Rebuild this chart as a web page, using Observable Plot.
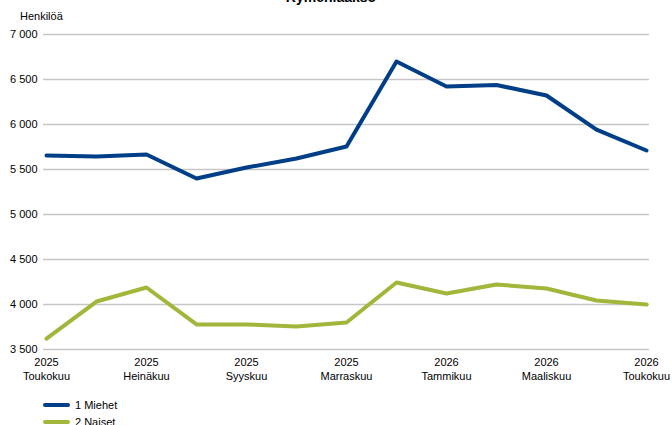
<!DOCTYPE html>
<html>
<head>
<meta charset="utf-8">
<script src="https://cdn.jsdelivr.net/npm/d3@7"></script>
<script src="https://cdn.jsdelivr.net/npm/@observablehq/plot@0.6"></script>
<style>
  body { margin: 0; background: #fff; font-family: "Liberation Sans", Arial, sans-serif; }
  #wrap { position: relative; width: 672px; height: 425px; overflow: hidden; }
  #title { position: absolute; top: -11px; left: 0; width: 662px; text-align: center; font-weight: bold; font-size: 14px; color: #000; }
  #ylabel { position: absolute; top: 10px; left: 20px; font-size: 11px; color: #000; }
  #legend { position: absolute; top: 396px; left: 43px; font-size: 11px; color: #000; }
  .li { display: flex; align-items: center; height: 17px; }
  .sw { width: 27px; height: 4px; border-radius: 2px; margin-right: 5px; }
  svg text { font-family: "Liberation Sans", Arial, sans-serif; }
</style>
</head>
<body>
<div id="wrap">
  <div id="chart"></div>
  <div id="title">Kymenlaakso</div>
  <div id="ylabel">Henkilöä</div>
  <div id="legend"></div>
</div>
<script>
const months = ["2025 Toukokuu","2025 Kesäkuu","2025 Heinäkuu","2025 Elokuu","2025 Syyskuu","2025 Lokakuu","2025 Marraskuu","2025 Joulukuu","2026 Tammikuu","2026 Helmikuu","2026 Maaliskuu","2026 Huhtikuu","2026 Toukokuu"];
const miehet = [5656, 5644, 5667, 5400, 5522, 5622, 5756, 6700, 6422, 6439, 6322, 5944, 5711];
const naiset = [3622, 4033, 4189, 3778, 3778, 3756, 3800, 4244, 4122, 4222, 4178, 4044, 4000];
const seriesNames = ["1 Miehet", "2 Naiset"];
const seriesColors = ["#003f87", "#a3b53a"];
const yTicks = [3500, 4000, 4500, 5000, 5500, 6000, 6500, 7000];
const xTicks = months.filter((d, i) => i % 2 === 0);

const data = [];
months.forEach((m, i) => {
  data.push({month: m, value: miehet[i], series: seriesNames[0]});
  data.push({month: m, value: naiset[i], series: seriesNames[1]});
});

const fmt = v => d3.format(",")(v).replace(/,/g, " ");

const chart = Plot.plot({
  width: 672,
  height: 390,
  marginLeft: 43,
  marginRight: 23,
  marginTop: 34,
  marginBottom: 41,
  style: {fontSize: "11px", fontFamily: "Liberation Sans, Arial, sans-serif", color: "#000"},
  x: {type: "point", domain: months, padding: 0, label: null},
  y: {domain: [3500, 7000], label: null},
  color: {domain: seriesNames, range: seriesColors},
  marks: [
    Plot.gridY(yTicks, {stroke: "#c6c6c6", strokeOpacity: 1, strokeWidth: 1.5}),
    Plot.axisY(yTicks, {tickSize: 0, tickPadding: 6, tickFormat: fmt, label: null, fill: "#000"}),
    Plot.axisX(xTicks, {tickSize: 0, tickPadding: 6, tickFormat: d => d.replace(" ", "\n"), label: null, fill: "#000", lineHeight: 1.3}),
    Plot.line(data, {x: "month", y: "value", z: "series", stroke: "series", strokeWidth: 4, strokeLinejoin: "round", strokeLinecap: "round"})
  ]
});
document.getElementById("chart").appendChild(chart);

const legend = document.getElementById("legend");
seriesNames.forEach((n, i) => {
  const row = document.createElement("div");
  row.className = "li";
  row.innerHTML = `<div class="sw" style="background:${seriesColors[i]}"></div><span>${n}</span>`;
  legend.appendChild(row);
});
</script>
</body>
</html>
